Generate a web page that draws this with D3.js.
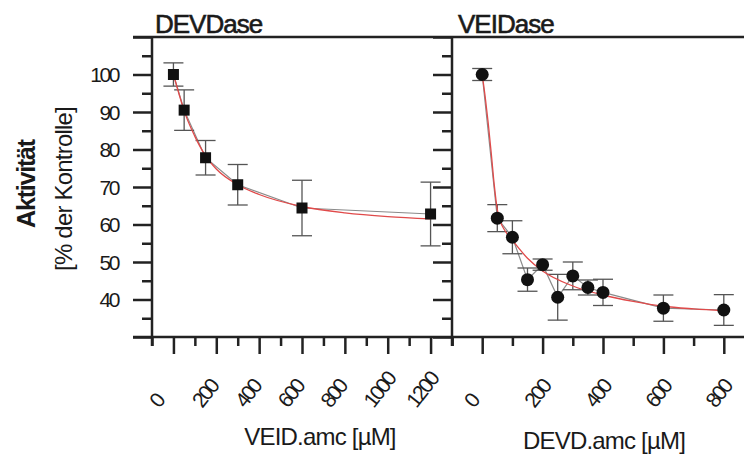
<!DOCTYPE html>
<html><head><meta charset="utf-8">
<script src="https://cdn.jsdelivr.net/npm/d3@7/dist/d3.min.js"></script>
<style>
html,body{margin:0;padding:0;background:#fff;}
svg{display:block;}
text{font-family:"Liberation Sans",Arial,sans-serif;fill:#1a1a1a;}
</style></head>
<body>
<script>
// ---- data ----
const panelTitles = ["DEVDase", "VEIDase"];
const xTitles = ["VEID.amc [µM]", "DEVD.amc [µM]"];
const yTitle1 = "Aktivität";
const yTitle2 = "[% der Kontrolle]";

const leftX   = [0, 50, 150, 300, 600, 1200];
const leftY   = [100, 90.5, 77.8, 70.6, 64.4, 62.8];
const leftErr = [3.1, 5.4, 4.6, 5.4, 7.4, 8.5];
const leftFitX = [0, 25, 50, 100, 150, 200, 300, 400, 600, 800, 1000, 1200];
const leftFitY = [100, 95, 90.3, 83.5, 78.3, 74.8, 70.6, 68.0, 64.8, 63.1, 62.1, 61.5];

const rightX   = [0, 50, 100, 150, 200, 250, 300, 350, 400, 600, 800];
const rightY   = [100, 61.7, 56.6, 45.3, 49.3, 40.6, 46.3, 43.2, 41.9, 37.7, 37.2];
const rightErr = [1.6, 3.6, 4.4, 3.1, 1.5, 6.1, 3.7, 2.0, 3.5, 3.5, 4.1];
const rightFitX = [0, 10, 20, 30, 40, 50, 60, 75, 100, 150, 200, 300, 400, 500, 600, 700, 800];
const rightFitY = [100, 94, 87, 79, 70.5, 64, 60.8, 58.4, 55.8, 51, 47.6, 43.6, 41.2, 39.5, 38.2, 37.5, 37.0];

const yMajor = [30, 40, 50, 60, 70, 80, 90, 100, 110];
const yMinor = [35, 45, 55, 65, 75, 85, 95, 105];
const yLabels = [40, 50, 60, 70, 80, 90, 100];
const leftXMajor = [0, 200, 400, 600, 800, 1000, 1200];
const leftXMinor = [-100, 100, 300, 500, 700, 900, 1100, 1300];
const rightXMajor = [0, 200, 400, 600, 800];
const rightXMinor = [-100, 100, 300, 500, 700, 900];

// ---- layout ----
const W = 744, H = 456;
const yTop = 37, yBot = 337, xL = 152, xM = 452;
const svg = d3.select("body").append("svg").attr("width", W).attr("height", H);

const y = d3.scaleLinear().domain([30, 110]).range([yBot, yTop]);
const xLeft = d3.scaleLinear().domain([-100, 1300]).range([xL, xM]);
const xRight = d3.scaleLinear().domain([-100, 900]).range([xM, xM + 302]);

const axisCol = "#222";
const majorLen = 19, minorLen = 10, xMajLen = 17, xMinLen = 9;

function yAxis(xpos, labels) {
  const g = svg.append("g").attr("transform", `translate(${xpos},0)`);
  g.call(d3.axisLeft(y).tickValues(yMajor).tickSize(majorLen).tickFormat(""))
   .call(s => s.select(".domain").remove());
  g.append("g").call(d3.axisLeft(y).tickValues(yMinor).tickSize(minorLen).tickFormat(""))
   .call(s => s.select(".domain").remove());
  g.selectAll("line").attr("stroke", axisCol).attr("stroke-width", 2.5);
  if (labels) {
    g.selectAll(".lab").data(yLabels).enter().append("text")
      .attr("x", -34).attr("y", d => y(d) + 7.5)
      .attr("text-anchor", "end").attr("font-size", 21)
      .attr("letter-spacing", "-2.4px")
      .text(d => d);
  }
}
yAxis(xL, true);
yAxis(xM, false);

function xAxis(sc, maj, min, labOff) {
  const g = svg.append("g").attr("transform", `translate(0,${yBot})`);
  g.call(d3.axisBottom(sc).tickValues(maj).tickSize(xMajLen).tickFormat(""))
   .call(s => s.select(".domain").remove());
  g.append("g").call(d3.axisBottom(sc).tickValues(min).tickSize(xMinLen).tickFormat(""))
   .call(s => s.select(".domain").remove());
  g.selectAll("line").attr("stroke", axisCol).attr("stroke-width", 2.5);
  g.selectAll(".lab").data(maj).enter().append("text")
    .attr("transform", d => `translate(${sc(d) + labOff},${72}) rotate(-52)`)
    .attr("text-anchor", "start").attr("font-size", 21)
    .attr("letter-spacing", "-2.4px")
    .text(d => d);
}
xAxis(xLeft, leftXMajor, leftXMinor, -14);
xAxis(xRight, rightXMajor, rightXMinor, -8);

svg.append("line").attr("x1", xL - majorLen).attr("x2", W).attr("y1", yTop).attr("y2", yTop)
  .attr("stroke", axisCol).attr("stroke-width", 2.5);
svg.append("line").attr("x1", xL - majorLen).attr("x2", W).attr("y1", yBot).attr("y2", yBot)
  .attr("stroke", axisCol).attr("stroke-width", 2.5);
[xL, xM].forEach(xx => svg.append("line").attr("x1", xx).attr("x2", xx)
  .attr("y1", yTop - 1).attr("y2", yBot + xMinLen)
  .attr("stroke", axisCol).attr("stroke-width", 2.5));

function panel(sc, xs, ys, es, fx, fy, shape) {
  const g = svg.append("g");
  const pts = xs.map((d, i) => ({x: d, y: ys[i], e: es[i]}));
  g.append("path").datum(pts)
    .attr("d", d3.line().x(d => sc(d.x)).y(d => y(d.y)))
    .attr("fill", "none").attr("stroke", "#8a8a8a").attr("stroke-width", 1.2);
  const eb = g.selectAll(".eb").data(pts).enter().append("g")
    .attr("stroke", "#555").attr("stroke-width", 1.3);
  eb.append("line").attr("x1", d => sc(d.x)).attr("x2", d => sc(d.x))
    .attr("y1", d => y(d.y + d.e)).attr("y2", d => y(d.y - d.e));
  eb.append("line").attr("x1", d => sc(d.x) - 10).attr("x2", d => sc(d.x) + 10)
    .attr("y1", d => y(d.y + d.e)).attr("y2", d => y(d.y + d.e));
  eb.append("line").attr("x1", d => sc(d.x) - 10).attr("x2", d => sc(d.x) + 10)
    .attr("y1", d => y(d.y - d.e)).attr("y2", d => y(d.y - d.e));
  const fit = fx.map((d, i) => [d, fy[i]]);
  g.append("path").datum(fit)
    .attr("d", d3.line().x(d => sc(d[0])).y(d => y(d[1])).curve(d3.curveMonotoneX))
    .attr("fill", "none").attr("stroke", "#e04a4a").attr("stroke-width", 1.3);
  if (shape === "square") {
    g.selectAll(".m").data(pts).enter().append("rect")
      .attr("x", d => sc(d.x) - 5.5).attr("y", d => y(d.y) - 5.5)
      .attr("width", 11).attr("height", 11).attr("fill", "#111");
  } else {
    g.selectAll(".m").data(pts).enter().append("circle")
      .attr("cx", d => sc(d.x)).attr("cy", d => y(d.y))
      .attr("r", 6.5).attr("fill", "#111");
  }
}
panel(xLeft, leftX, leftY, leftErr, leftFitX, leftFitY, "square");
panel(xRight, rightX, rightY, rightErr, rightFitX, rightFitY, "circle");

function title(x, yy, t) {
  svg.append("text").attr("x", x).attr("y", yy).attr("font-size", 26)
    .attr("letter-spacing", "-1px").attr("stroke", "#1a1a1a").attr("stroke-width", 0.6)
    .text(t);
}
title(155, 33, panelTitles[0]);
title(458, 33, panelTitles[1]);
svg.append("text").attr("x", 320).attr("y", 445).attr("text-anchor", "middle")
  .attr("font-size", 24).attr("letter-spacing", "-0.8px").text(xTitles[0]);
svg.append("text").attr("x", 604).attr("y", 449).attr("text-anchor", "middle")
  .attr("font-size", 24).attr("letter-spacing", "-0.8px").text(xTitles[1]);

svg.append("text").attr("transform", "translate(35,184) rotate(-90)")
  .attr("text-anchor", "middle").attr("font-size", 25).attr("font-weight", "bold")
  .attr("letter-spacing", "-1.2px").text(yTitle1);
svg.append("text").attr("transform", "translate(72,189) rotate(-90)")
  .attr("text-anchor", "middle").attr("font-size", 24)
  .attr("letter-spacing", "-0.8px").text(yTitle2);
</script>
</body></html>
